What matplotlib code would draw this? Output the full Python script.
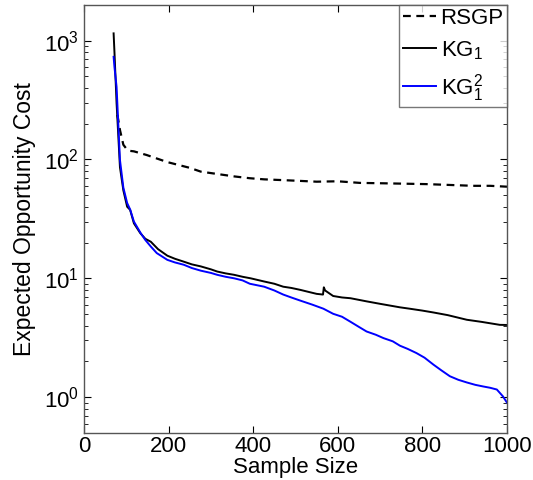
import matplotlib
matplotlib.use("Agg")
import matplotlib.pyplot as plt
from matplotlib.ticker import LogLocator, NullFormatter

# ==========================================
# DATA
# ==========================================
rsgp_x = [79, 85, 93, 101, 109, 118, 148, 197, 250, 276, 320, 355, 392, 426,
          470, 511, 550, 600, 652, 708, 760, 810, 865, 920, 960, 1000]
rsgp_y = [237, 177, 133, 122, 118, 117, 109, 95, 85, 79, 75, 72, 69.5, 68,
          67, 66, 65, 65.5, 63.5, 63, 62.5, 62, 61, 60, 60, 59]

kg1_x = [70, 72, 77, 85, 93, 102, 109, 118, 133, 145, 158, 175, 197, 215, 236,
         255, 276, 300, 315, 335, 355, 375, 394, 426, 450, 471, 490, 511, 530,
         550, 565, 567, 570, 589, 610, 630, 668, 700, 747, 770, 800, 826, 860,
         905, 940, 983, 1000]
kg1_y = [1150, 800, 298, 86, 55, 40, 37.7, 29, 24, 21.5, 20.3, 17.6, 15.5,
         14.6, 13.8, 13.1, 12.6, 11.9, 11.4, 11.0, 10.7, 10.3, 10.0, 9.4, 9.0,
         8.5, 8.3, 8.0, 7.7, 7.4, 7.3, 8.4, 7.9, 7.1, 6.9, 6.8, 6.4, 6.1, 5.7,
         5.55, 5.35, 5.16, 4.9, 4.48, 4.3, 4.06, 4.05]

kg1sq_x = [70, 72, 77, 85, 93, 102, 109, 118, 134, 145, 158, 172, 197, 215,
           236, 255, 276, 300, 315, 335, 355, 375, 392, 426, 450, 471, 490, 511,
           540, 566, 589, 610, 629, 650, 668, 690, 708, 730, 747, 765, 786, 805,
           826, 845, 865, 885, 905, 925, 944, 960, 976, 990, 1000]
kg1sq_y = [730, 600, 408, 99, 58, 43, 38, 30, 24, 21, 18.5, 16.3, 14.3, 13.6,
           13.0, 12.2, 11.6, 11.1, 10.7, 10.3, 10.0, 9.6, 9.0, 8.5, 7.9, 7.3,
           6.9, 6.5, 6.0, 5.55, 5.03, 4.75, 4.33, 3.9, 3.57, 3.35, 3.14, 2.95,
           2.71, 2.55, 2.35, 2.15, 1.88, 1.68, 1.5, 1.4, 1.33, 1.27, 1.23, 1.2,
           1.16, 1.02, 0.9]

x_ticks = [0, 200, 400, 600, 800, 1000]

# ==========================================
# PLOTTING
# ==========================================
plt.rcParams['font.family'] = ['Liberation Sans', 'DejaVu Sans']
plt.rcParams['mathtext.fontset'] = 'custom'
plt.rcParams['mathtext.rm'] = 'Liberation Sans'
plt.rcParams['mathtext.it'] = 'Liberation Sans'

fig = plt.figure(figsize=(5.33, 4.8), dpi=100)
ax = fig.add_axes([0.1576, 0.098, 0.7936, 0.892])

ax.plot(rsgp_x, rsgp_y, color='black', lw=1.6, linestyle=(0, (3.5, 2.5)), label='RSGP')
ax.plot(kg1_x, kg1_y, color='black', lw=1.4, label='KG$_1$')
ax.plot(kg1sq_x, kg1sq_y, color='#0000ff', lw=1.4, label='KG$_1^2$')

ax.set_yscale('log')
ax.set_xlim(0, 1000)
ax.set_ylim(0.5, 2000)
ax.set_xticks(x_ticks)
ax.yaxis.set_major_locator(LogLocator(base=10, numticks=10))
ax.yaxis.set_minor_locator(LogLocator(base=10, subs=range(2, 10), numticks=20))
ax.yaxis.set_minor_formatter(NullFormatter())

ax.tick_params(which='both', direction='in', top=True, right=True, labelsize=16)
ax.tick_params(axis='x', pad=2)
ax.tick_params(which='major', length=5, width=0.8)
ax.tick_params(which='minor', length=3, width=0.6)
for sp in ax.spines.values():
    sp.set_color('#555555')
    sp.set_linewidth(1.0)

ax.set_xlabel('Sample Size', fontsize=16, labelpad=0)
ax.set_ylabel('Expected Opportunity Cost', fontsize=16.5, labelpad=6)

leg = ax.legend(loc='upper right', fontsize=16, handlelength=1.5, handletextpad=0.2,
                borderpad=0.15, labelspacing=0.45, borderaxespad=0.0, fancybox=False)
leg.get_frame().set_edgecolor('#555555')
leg.get_frame().set_linewidth(1.0)

plt.savefig('out.png', dpi=100)
plt.close()
